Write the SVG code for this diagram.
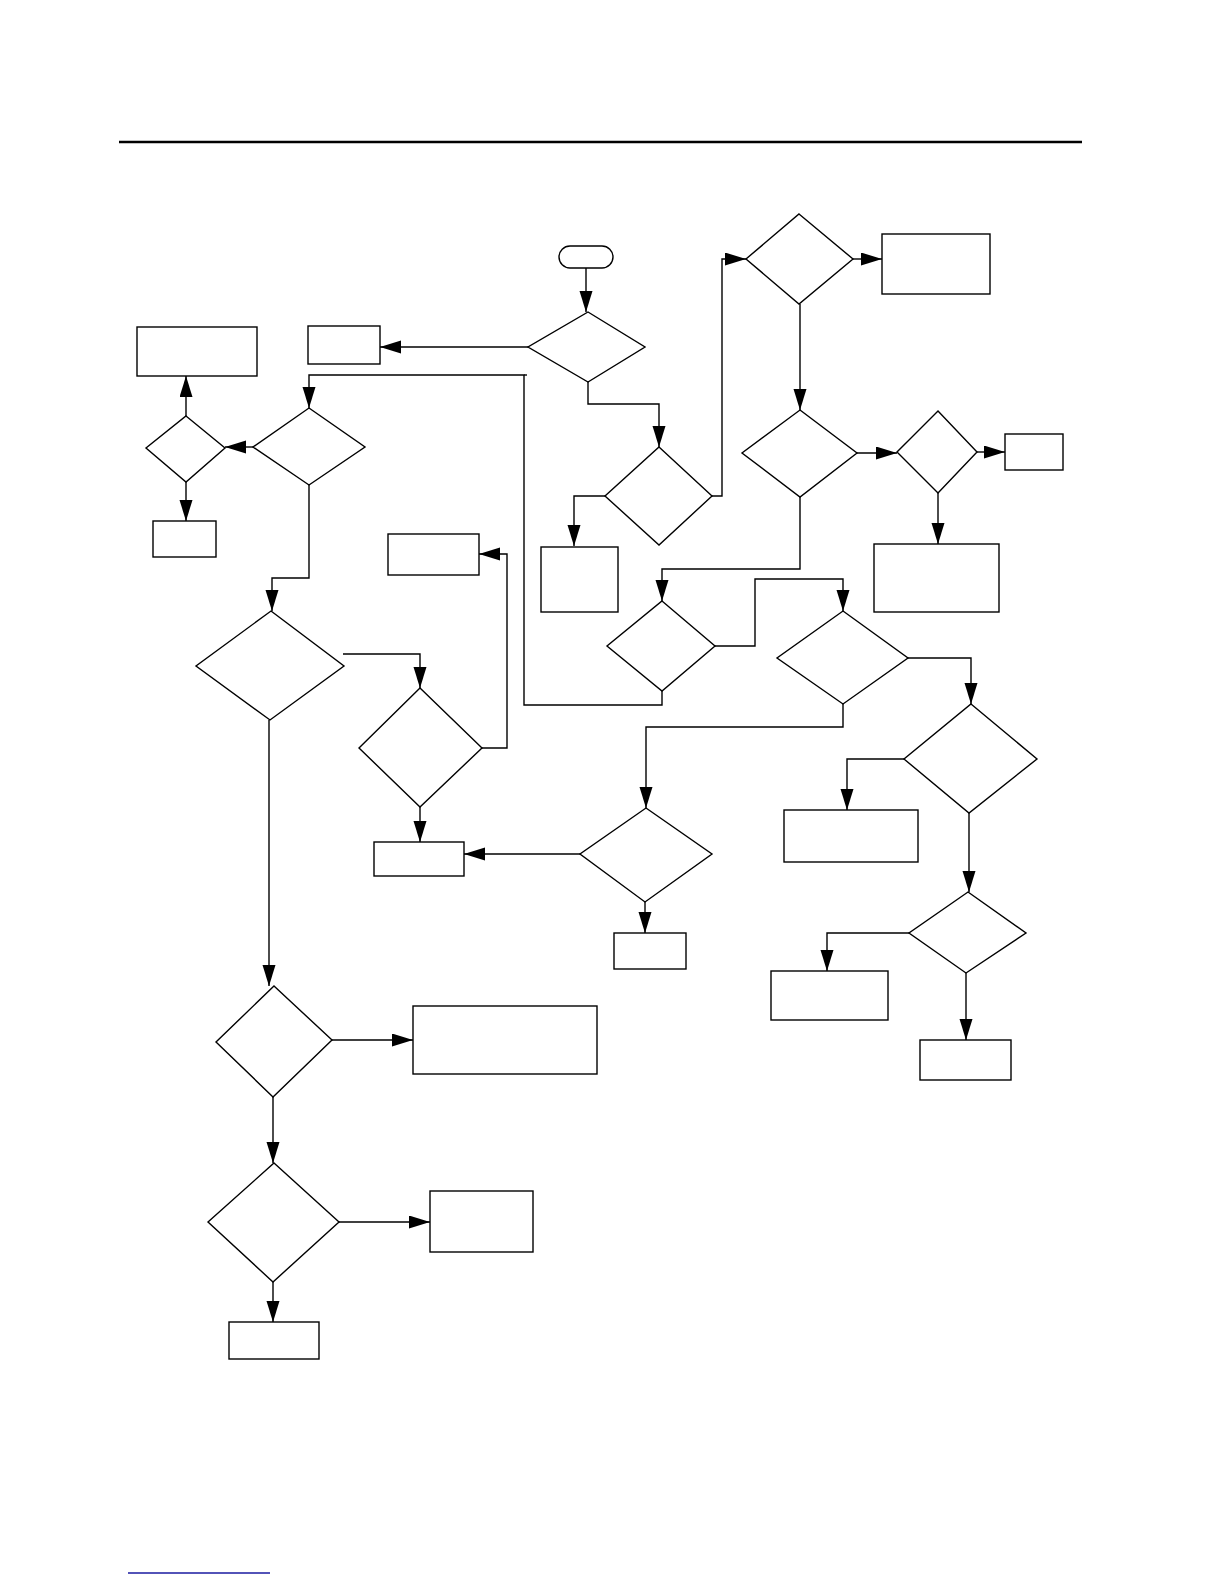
<svg xmlns="http://www.w3.org/2000/svg" width="1224" height="1584" viewBox="0 0 1224 1584">
<style>
.n{fill:#fff;stroke:#000;stroke-width:1.4}
.c path{fill:none;stroke:#000;stroke-width:1.4;marker-end:url(#ah)}
</style>
<defs>
<marker id="ah" markerUnits="userSpaceOnUse" markerWidth="22" markerHeight="14" refX="21" refY="6.5" orient="auto">
<path d="M0,0 L21,6.5 L0,13 z" fill="#000"/>
</marker>
</defs>
<rect width="1224" height="1584" fill="#fff"/>
<line x1="119" y1="142" x2="1082" y2="142" stroke="#000" stroke-width="2.5"/>
<line x1="128" y1="1573" x2="270" y2="1573" stroke="#1a1aa0" stroke-width="1.5"/>
<g class="c" id="connectors">
<path d="M586,268 V312"/>
<path d="M528,347 H380"/>
<path d="M588,382 V404 H659 V447"/>
<path d="M605,496 H574 V546"/>
<path d="M712,496 H722 V259 H746"/>
<path d="M853,259 H882"/>
<path d="M800,304 V410"/>
<path d="M857,453 H897"/>
<path d="M977,452 H1005"/>
<path d="M938,493 V544"/>
<path d="M800,497 V569 H662 V601"/>
<path d="M715,646 H755 V579 H843 V611"/>
<path d="M908,658 H971 V704"/>
<path d="M904,759 H847 V810"/>
<path d="M969,813 V892"/>
<path d="M909,933 H827 V971"/>
<path d="M966,973 V1040"/>
<path d="M843,704 V727 H646 V808"/>
<path d="M580,854 H464"/>
<path d="M645,902 V933"/>
<path d="M662,691 V705 H524 V375 H309 V408"/>
<path d="M253,447 H225"/>
<path d="M186,416 V376"/>
<path d="M186,482 V521"/>
<path d="M309,485 V578 H272 V611"/>
<path d="M343,654 H420 V688"/>
<path d="M482,748 H507 V554 H479"/>
<path d="M420,807 V842"/>
<path d="M269,720 V986"/>
<path d="M332,1040 H413"/>
<path d="M273,1097 V1163"/>
<path d="M339,1222 H430"/>
<path d="M273,1282 V1322"/>
<line x1="524" y1="375" x2="527" y2="375" stroke="#000" stroke-width="1.4"/>
</g>
<g id="start"><rect class="n" x="559" y="246" width="54" height="22" rx="11"/></g>
<g id="d1"><polygon class="n" points="588,312 645,347 588,382 528,347"/></g>
<g id="d2"><polygon class="n" points="659,447 712,496 659,545 605,496"/></g>
<g id="d3"><polygon class="n" points="799,214 853,259 799,304 746,259"/></g>
<g id="d4"><polygon class="n" points="800,410 857,453 800,497 742,453"/></g>
<g id="d5"><polygon class="n" points="938,411 977,452 938,493 897,452"/></g>
<g id="d6"><polygon class="n" points="662,601 715,646 662,691 607,646"/></g>
<g id="d7"><polygon class="n" points="843,611 908,658 843,704 777,658"/></g>
<g id="d8"><polygon class="n" points="971,704 1037,759 969,813 904,759"/></g>
<g id="d9"><polygon class="n" points="309,408 365,447 309,485 253,447"/></g>
<g id="d10"><polygon class="n" points="186,416 225,448 186,482 146,448"/></g>
<g id="d11"><polygon class="n" points="420,688 482,748 420,807 359,748"/></g>
<g id="d12"><polygon class="n" points="271,611 344,666 270,720 196,666"/></g>
<g id="d13"><polygon class="n" points="646,808 712,854 645,902 580,854"/></g>
<g id="d14"><polygon class="n" points="968,892 1026,933 966,973 909,933"/></g>
<g id="d15"><polygon class="n" points="274,986 332,1040 273,1097 216,1042"/></g>
<g id="d16"><polygon class="n" points="274,1163 339,1222 273,1282 208,1222"/></g>
<g id="bA"><rect class="n" x="308" y="326" width="72" height="38"/></g>
<g id="bL"><rect class="n" x="137" y="327" width="120" height="49"/></g>
<g id="bM"><rect class="n" x="153" y="521" width="63" height="36"/></g>
<g id="bB"><rect class="n" x="388" y="534" width="91" height="41"/></g>
<g id="bC"><rect class="n" x="541" y="547" width="77" height="65"/></g>
<g id="bD"><rect class="n" x="882" y="234" width="108" height="60"/></g>
<g id="bE"><rect class="n" x="1005" y="434" width="58" height="36"/></g>
<g id="bF"><rect class="n" x="874" y="544" width="125" height="68"/></g>
<g id="bN"><rect class="n" x="374" y="842" width="90" height="34"/></g>
<g id="bK"><rect class="n" x="614" y="933" width="72" height="36"/></g>
<g id="bG"><rect class="n" x="784" y="810" width="134" height="52"/></g>
<g id="bH"><rect class="n" x="771" y="971" width="117" height="49"/></g>
<g id="bI"><rect class="n" x="920" y="1040" width="91" height="40"/></g>
<g id="bO"><rect class="n" x="413" y="1006" width="184" height="68"/></g>
<g id="bP"><rect class="n" x="430" y="1191" width="103" height="61"/></g>
<g id="bQ"><rect class="n" x="229" y="1322" width="90" height="37"/></g>
</svg>
